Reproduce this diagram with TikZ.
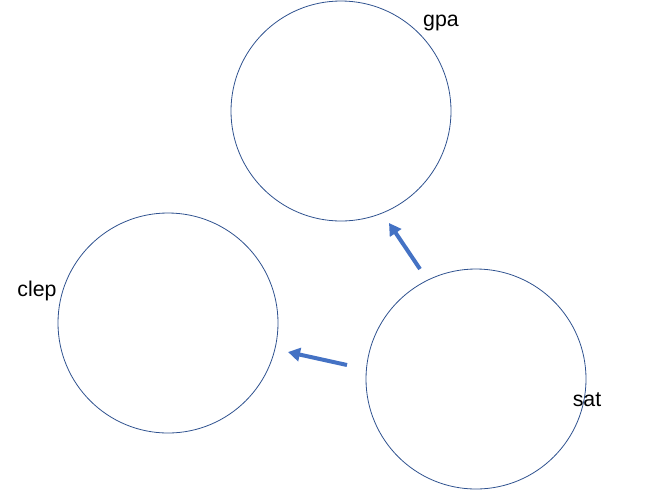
\documentclass[tikz,border=0pt]{standalone}
\usepackage{fontspec}
\setmainfont{Liberation Sans}
\usetikzlibrary{arrows.meta}
\definecolor{ring colour}{RGB}{47,82,143}
\definecolor{link colour}{RGB}{68,114,196}
\tikzset{
    % circles for each test
    ring/.style={draw=ring colour, line width=0.6pt, circle, minimum size=165pt, inner sep=0},
    tag/.style={font=\fontsize{16}{18}\selectfont, inner sep=0},
    link/.style={draw=link colour, line width=3pt, -{Triangle[length=9pt, width=10pt]}},
}

\begin{document}
\begin{tikzpicture}[x=0.75pt, y=-0.75pt]
\useasboundingbox (0,0) rectangle (652,490);

\node (gpa) [ring] at (341,111) {};
\node (clep) [ring] at (168,323) {};
\node (sat) [ring] at (476,379) {};

\node (gpa-tag) [tag] at (441,23) {gpa};
\node (clep-tag) [tag] at (37,291) {clep};
\node (sat-tag) [tag] at (587,400) {sat};

\coordinate (sat-up) at (420,269);
\coordinate (gpa-in) at (389,223);
\coordinate (sat-left) at (347,365);
\coordinate (clep-in) at (288,352);

\draw [link] (sat-up) -- (gpa-in);
\draw [link] (sat-left) -- (clep-in);

\end{tikzpicture}
\end{document}
